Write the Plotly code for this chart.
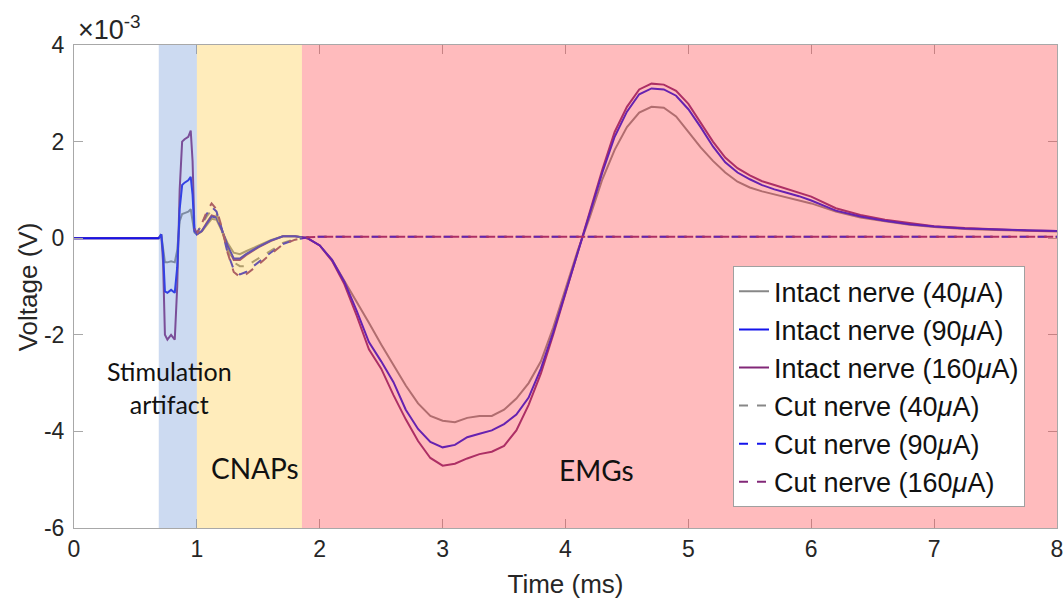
import plotly.graph_objects as go

# ---------------- data (voltage in units of 1e-3 V, time in ms) ----------------
T_INTACT = [0, 0.69, 0.71, 0.725, 0.74, 0.76, 0.79, 0.82, 0.84, 0.86, 0.88, 0.90, 0.93, 0.95,
            0.965, 0.98, 1.0, 1.04, 1.08, 1.12, 1.16, 1.2, 1.25, 1.3, 1.35, 1.4, 1.5, 1.6,
            1.7, 1.8, 1.9, 2.0, 2.1, 2.2, 2.3, 2.4, 2.5, 2.6, 2.7, 2.8, 2.9, 3.0, 3.1, 3.2,
            3.3, 3.4, 3.5, 3.6, 3.7, 3.8, 3.9, 4.0, 4.1, 4.2, 4.3, 4.4, 4.5, 4.6, 4.7, 4.8,
            4.9, 5.0, 5.1, 5.2, 5.3, 5.4, 5.5, 5.6, 5.7, 5.8, 5.9, 6.0, 6.2, 6.4, 6.6, 6.8,
            7.0, 7.25, 7.5, 7.75, 8.0]

INTACT_40 = [0, 0, 0.08, -0.2, -0.5, -0.5, -0.48, -0.5, -0.25, 0.35, 0.5, 0.52, 0.55, 0.6,
             0.4, 0.12, 0.08, 0.14, 0.27, 0.4, 0.38, 0.18, -0.1, -0.3, -0.33, -0.27, -0.15, -0.04,
             0.04, 0.04, 0.0, -0.15, -0.45, -0.88, -1.3, -1.75, -2.2, -2.62, -3.05, -3.42, -3.68, -3.78, -3.81, -3.72,
             -3.68, -3.68, -3.55, -3.32, -3.0, -2.55, -1.85, -1.05, -0.25, 0.45, 1.22, 1.83, 2.3, 2.6, 2.72, 2.7,
             2.52, 2.2, 1.88, 1.6, 1.36, 1.17, 1.05, 0.97, 0.91, 0.85, 0.79, 0.72, 0.55, 0.43, 0.35, 0.28,
             0.23, 0.19, 0.17, 0.15, 0.14]

INTACT_90 = [0, 0, 0.08, -0.3, -1.1, -1.13, -1.07, -1.13, -0.6, 0.6, 1.1, 1.15, 1.2, 1.27,
             0.9, 0.15, 0.08, 0.15, 0.3, 0.45, 0.42, 0.2, -0.15, -0.42, -0.42, -0.33, -0.18, -0.05,
             0.04, 0.04, 0.0, -0.15, -0.45, -0.9, -1.5, -2.15, -2.55, -2.98, -3.55, -3.95, -4.22, -4.33, -4.28, -4.12,
             -4.05, -3.98, -3.85, -3.65, -3.3, -2.7, -1.95, -1.12, -0.28, 0.52, 1.36, 2.1, 2.62, 2.98, 3.1, 3.08,
             2.95, 2.67, 2.3, 1.9, 1.57, 1.36, 1.22, 1.1, 1.01, 0.94, 0.87, 0.78, 0.57, 0.45, 0.36, 0.29,
             0.24, 0.2, 0.18, 0.16, 0.15]

INTACT_160 = [0, 0, 0.08, -0.5, -2.0, -2.1, -2.0, -2.1, -1.0, 1.0, 2.0, 2.05, 2.1, 2.23,
              1.6, 0.2, 0.08, 0.15, 0.32, 0.47, 0.44, 0.2, -0.18, -0.45, -0.45, -0.35, -0.19, -0.06,
              0.04, 0.04, 0.0, -0.15, -0.47, -0.95, -1.6, -2.3, -2.7, -3.25, -3.75, -4.2, -4.55, -4.71, -4.67, -4.56,
              -4.47, -4.42, -4.3, -3.98, -3.45, -2.8, -2.0, -1.15, -0.27, 0.58, 1.42, 2.2, 2.72, 3.08, 3.2, 3.18,
              3.05, 2.78, 2.4, 2.0, 1.67, 1.45, 1.3, 1.18, 1.1, 1.02, 0.95, 0.86, 0.62, 0.48, 0.38, 0.31,
              0.25, 0.21, 0.18, 0.16, 0.15]

T_CUT = [0.98, 1.0, 1.04, 1.08, 1.12, 1.16, 1.2, 1.25, 1.3, 1.35, 1.4, 1.5, 1.6, 1.7, 1.8, 1.9,
         2.0, 3.0, 4.0, 5.0, 6.0, 7.0, 8.0]
CUT_40 = [0.12, 0.1, 0.28, 0.45, 0.58, 0.5, 0.2, -0.25, -0.5, -0.58, -0.58, -0.42, -0.25, -0.1, -0.02, 0.02,
          0.03, 0.03, 0.03, 0.03, 0.03, 0.03, 0.03]
CUT_90 = [0.15, 0.1, 0.3, 0.5, 0.65, 0.55, 0.22, -0.3, -0.65, -0.75, -0.7, -0.5, -0.3, -0.12, -0.03, 0.02,
          0.03, 0.03, 0.03, 0.03, 0.03, 0.03, 0.03]
CUT_160 = [0.2, 0.1, 0.3, 0.55, 0.72, 0.6, 0.25, -0.3, -0.7, -0.8, -0.75, -0.55, -0.33, -0.13, -0.03, 0.02,
           0.03, 0.03, 0.03, 0.03, 0.03, 0.03, 0.03]

# (legend label, time, values, colour, dash, legend rank); drawn in this list's order
SERIES = [
    ("Intact nerve (40<i>μ</i>A)", T_INTACT, INTACT_40, "rgb(135,135,135)", "solid", 1),
    ("Intact nerve (160<i>μ</i>A)", T_INTACT, INTACT_160, "rgb(130,40,120)", "solid", 3),
    ("Intact nerve (90<i>μ</i>A)", T_INTACT, INTACT_90, "rgb(20,20,235)", "solid", 2),
    ("Cut nerve (40<i>μ</i>A)", T_CUT, CUT_40, "rgb(135,135,135)", "dash", 4),
    ("Cut nerve (90<i>μ</i>A)", T_CUT, CUT_90, "rgb(20,20,235)", "dash", 5),
    ("Cut nerve (160<i>μ</i>A)", T_CUT, CUT_160, "rgb(130,40,120)", "dash", 6),
]

REGIONS = [  # (start ms, end ms, overlay colour)
    (0.69, 1.0, "rgba(109,149,215,0.35)"),
    (1.0, 1.855, "rgba(255,201,61,0.35)"),
    (1.855, 8.0, "rgba(255,61,66,0.35)"),
]

LABELS = [  # (text, x, y, size)
    ("Stimulation<br>artifact", 0.775, -3.1, 25),
    ("CNAPs", 1.475, -4.76, 28),
    ("EMGs", 4.25, -4.8, 28),
]

X_TICKS = [0, 1, 2, 3, 4, 5, 6, 7, 8]
Y_TICKS = [-6, -4, -2, 0, 2, 4]
Y_TICK_TEXT = ["-6", "-4", "-2", "0", "2", "4"]

FONT = "Liberation Sans, Arial, sans-serif"

# ---------------- figure ----------------
fig = go.Figure()
for name, t, v, col, dash, rank in SERIES:
    fig.add_trace(go.Scatter(x=t, y=v, mode="lines", name=name, legendrank=rank,
                             line=dict(color=col, width=2, dash=dash)))

for x0, x1, col in REGIONS:
    fig.add_shape(type="rect", xref="x", yref="y", x0=x0, x1=x1, y0=-6, y1=4,
                  fillcolor=col, line_width=0, layer="above")

for txt, x, y, sz in LABELS:
    fig.add_annotation(x=x, y=y, xref="x", yref="y", text=txt, showarrow=False,
                       font=dict(family="Lato", size=sz, color="#111111"), align="center")

fig.add_annotation(xref="paper", yref="paper", x=0.002, y=0.996, xanchor="left", yanchor="bottom",
                   text="×10<sup>-3</sup>", showarrow=False,
                   font=dict(family=FONT, size=27, color="#262626"))

fig.add_annotation(xref="paper", yref="paper", x=-0.047, y=0.5, xanchor="center", yanchor="middle",
                   text="Voltage (V)", textangle=-90, showarrow=False,
                   font=dict(family=FONT, size=26, color="#262626"))

axis_common = dict(showline=True, linecolor="#a8a8a8", linewidth=1, mirror="ticks",
                   ticks="inside", ticklen=9, tickcolor="#a8a8a8", showgrid=False, zeroline=False,
                   tickfont=dict(family=FONT, size=23, color="#262626"))

fig.update_xaxes(range=[0, 8], tickvals=X_TICKS, **axis_common,
                 title=dict(text="Time (ms)", font=dict(family=FONT, size=26, color="#262626"),
                            standoff=14))
fig.update_yaxes(range=[-6, 4], tickvals=Y_TICKS, ticktext=Y_TICK_TEXT, ticklabelstandoff=4,
                 **axis_common)

fig.update_layout(
    width=1064, height=603,
    margin=dict(l=74, r=7, t=45, b=75, autoexpand=False),
    paper_bgcolor="white", plot_bgcolor="white",
    showlegend=True,
    legend=dict(x=0.6704, y=0.043, xanchor="left", yanchor="bottom",
                bgcolor="white", bordercolor="#a0a0a0", borderwidth=1,
                font=dict(family=FONT, size=27, color="#111111"),
                itemwidth=30, tracegroupgap=0, traceorder="normal"),
)

fig.write_html("out.html")
